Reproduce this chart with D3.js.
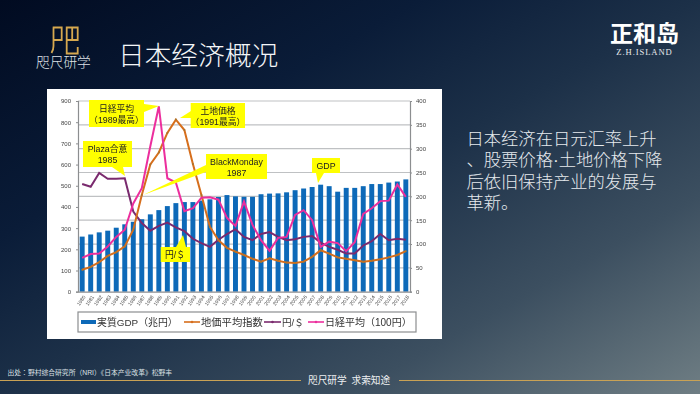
<!DOCTYPE html>
<html><head><meta charset="utf-8">
<script src="https://cdn.jsdelivr.net/npm/d3@7/dist/d3.min.js"></script>
<style>html,body{margin:0;padding:0;background:#0a1a33}svg{display:block}text{font-family:"Liberation Sans","Noto Sans CJK JP",sans-serif}</style>
</head><body><svg id="c" width="700" height="394"></svg>
<script>
const years = d3.range(1980, 2019).map(String);
const gdp = [260,270,280,288,302,318,330,342,365,385,404,418,423,423,430,436,447,456,450,448,448,460,463,464,469,479,487,494,505,498,472,490,490,498,508,508,515,520,530];
const land = [46,52,62,75,83,95,130,203,267,292,333,361,339,268,203,136,108,92,84,77,69,63,70,65,61,60,63,73,87,80,72,69,66,63,65,68,72,77,85];
const yen = [226,220,249,237,237,238,168,144,128,138,145,135,127,111,102,94,109,121,131,115,108,121,125,115,108,110,115,117,103,94,88,80,80,97,106,121,108,111,109];
const nikkei = [71,79,80,95,115,130,185,217,305,389,238,229,169,175,197,198,193,155,138,189,140,108,86,113,115,161,171,150,94,105,102,85,104,163,175,190,191,225,199];
const leftTicks = [0,100,200,300,400,500,600,700,800,900];
const rightTicks = [0,50,100,150,200,250,300,350,400];
const legendItems = ["実質GDP（兆円）","地価平均指数","円/＄","日経平均（100円）"];
const sideLines = ["日本经济在日元汇率上升","、股票价格·土地价格下降","后依旧保持产业的发展与","革新。"];

const svg = d3.select("#c");
const defs = svg.append("defs");
const bg = defs.append("linearGradient").attr("id","bg").attr("x1","0").attr("y1","0").attr("x2","1").attr("y2","1");
[[0,"#010b21"],[0.3,"#0a1c38"],[0.5,"#1c3048"],[0.75,"#3c4f60"],[1,"#6f7e84"]].forEach(d=>bg.append("stop").attr("offset",d[0]).attr("stop-color",d[1]));
defs.append("filter").attr("id","soft").append("feGaussianBlur").attr("stdDeviation",0.45);
svg.append("rect").attr("width",700).attr("height",394).attr("fill","url(#bg)");

// header
svg.append("text").attr("x",118).attr("y",65).attr("fill","#f4f6f8").attr("font-size",26.7).attr("font-weight",300).attr("font-family","Noto Sans CJK SC").text("日本经济概况");
const logo = svg.append("g").attr("fill","none").attr("stroke","#d6a84f").attr("stroke-width",1.8);
logo.append("path").attr("d","M52.7 27.5H61.7V40H53.5M53.5 27.5V46C53.5 49 52.8 51 51.5 53");
logo.append("path").attr("d","M66.7 27.5H77.7V40H66.7ZM72.2 27.5V40M66.7 40V53.5H77.7V47");
svg.append("text").attr("x",36).attr("y",67).attr("fill","#dfe2e6").attr("font-size",13.7).attr("font-weight",300).attr("font-family","Noto Sans CJK SC").text("咫尺研学");
svg.append("text").attr("x",644.5).attr("y",42).attr("text-anchor","middle").attr("fill","#fff").attr("font-size",23).attr("font-weight",700).attr("font-family","Noto Sans CJK TC").text("正和岛");
svg.append("text").attr("x",644.5).attr("y",55).attr("text-anchor","middle").attr("fill","#e8eaec").attr("font-size",8.6).attr("letter-spacing",0.9).style("font-family","Liberation Serif").text("Z.H.ISLAND");

// side text
svg.append("g").selectAll("text").data(sideLines).join("text").attr("x",466.5).attr("y",(d,i)=>145+i*21.3).attr("fill","#e6eaee").attr("font-size",17.3).attr("font-weight",300).attr("font-family","Noto Sans CJK SC").text(d=>d);

// footer
svg.append("text").attr("x",7.5).attr("y",375).attr("fill","#dde1e5").attr("font-size",6.8).attr("font-family","Noto Sans CJK SC").text("出处：野村综合研究所（NRI）《日本产业改革》松野丰");
svg.append("path").attr("d","M0 380.5H301M399 380.5H700").attr("stroke","#c9a255").attr("stroke-width",1.2);
svg.append("text").attr("x",308).attr("y",384).attr("fill","#eef0f2").attr("font-size",9.7).attr("word-spacing",2).attr("font-family","Noto Sans CJK SC").text("咫尺研学 求索知途");

// chart panel
const chart = svg.append("g").attr("filter","url(#soft)");
chart.append("rect").attr("x",47).attr("y",89).attr("width",395).attr("height",250).attr("fill","#fff");
const plot = {l:78, r:410, t:101, b:291.7};
const x = d3.scaleBand().domain(years).range([plot.l,plot.r]).paddingInner(0.42).paddingOuter(0.2);
const yL = d3.scaleLinear().domain([0,900]).range([plot.b,plot.t]);
const yR = d3.scaleLinear().domain([0,400]).range([plot.b,plot.t]);
const cx = y => x(y)+x.bandwidth()/2;

chart.append("g").selectAll("line").data(rightTicks.slice(1)).join("line")
  .attr("x1",plot.l).attr("x2",plot.r).attr("y1",d=>yR(d)).attr("y2",d=>yR(d)).attr("stroke","#bfc1c3").attr("stroke-width",1.2);
chart.append("g").selectAll("rect").data(years).join("rect")
  .attr("x",d=>x(d)).attr("width",x.bandwidth()).attr("y",(d,i)=>yL(gdp[i])).attr("height",(d,i)=>plot.b-yL(gdp[i])).attr("fill","#0a69b8");

const axL = chart.append("g").attr("transform",`translate(${plot.l},0)`).call(d3.axisLeft(yL).tickValues(leftTicks).tickSize(2).tickPadding(5));
const axR = chart.append("g").attr("transform",`translate(${plot.r},0)`).call(d3.axisRight(yR).tickValues(rightTicks).tickSize(2).tickPadding(4));
const axB = chart.append("g").attr("transform",`translate(0,${plot.b})`).call(d3.axisBottom(x).tickSize(0).tickPadding(4));
[axL,axR,axB].forEach(a=>{a.selectAll(".domain").attr("stroke","#8c8e90").attr("stroke-width",1.2);a.selectAll("line").attr("stroke","#8c8e90");a.selectAll("text").attr("fill","#444").attr("font-size",6).style("font-family","Liberation Sans");});
axB.selectAll("text").attr("font-size",5).attr("text-anchor","end").each(function(){const s=d3.select(this);const y0=+s.attr("y");s.attr("transform",`translate(2,${y0}) rotate(-55)`).attr("y",0).attr("dy","2");});

const line = d3.line().x((d,i)=>cx(years[i])).y(d=>yR(d));
[[yen,"#7a2a6e"],[land,"#d66e1c"],[nikkei,"#ec2f9d"]].forEach(([vals,col])=>{
  chart.append("path").datum(vals).attr("d",line).attr("fill","none").attr("stroke",col).attr("stroke-width",2);
});
chart.append("g").selectAll("circle").data(land).join("circle").attr("cx",(d,i)=>cx(years[i])).attr("cy",d=>yR(d)).attr("r",1).attr("fill","#a8742e");

// callouts
const callouts = [
 {box:[89,100,55,27], tail:"M144 104L159 106L144 112", lines:["日経平均","（1989最高）"], ty:[112,123], cx:116.5},
 {box:[190.7,103,54.3,25], tail:"M191 111L180 118L191 118", lines:["土地価格","（1991最高）"], ty:[114,125], cx:218},
 {box:[83,141,49,26], tail:"M112 167L125 176L123 167", lines:["Plaza合意","1985"], ty:[152,163], cx:107.5},
 {box:[206,154,61,25], tail:"M206 165L143 195L206 172", lines:["BlackMonday","1987"], ty:[165,176], cx:236.5},
 {box:[312,158,28,15], tail:"M316 173L318 183L324 173", lines:["GDP"], ty:[169], cx:326},
 {box:[160.7,247,29.3,15], tail:"M176 247L183 235L186 247", lines:["円/＄"], ty:[258], cx:175}
];
const cg = chart.append("g");
callouts.forEach(c=>{
  cg.append("path").attr("d",c.tail).attr("fill","#ffff00");
  cg.append("rect").attr("x",c.box[0]).attr("y",c.box[1]).attr("width",c.box[2]).attr("height",c.box[3]).attr("fill","#ffff00");
  c.lines.forEach((t,i)=>cg.append("text").attr("x",c.cx).attr("y",c.ty[i]).attr("text-anchor","middle").attr("fill","#222").attr("font-size",8.8).text(t));
});

// legend
const lg = chart.append("g");
lg.append("rect").attr("x",78).attr("y",312).attr("width",338).attr("height",20).attr("fill","#fff").attr("stroke","#8c8e90").attr("stroke-width",1.2);
lg.append("rect").attr("x",81).attr("y",320).attr("width",15).attr("height",4).attr("fill","#0a69b8");
const items = [
 {x:97,t:legendItems[0],fs:9.9},
 {x:201,t:legendItems[1],c:"#d66e1c",lx:184,fs:10.3},
 {x:282,t:legendItems[2],c:"#7a2a6e",lx:264,fs:9.5},
 {x:325,t:legendItems[3],c:"#ec2f9d",lx:308,fs:10}
];
items.forEach(it=>{
  if(it.c){
    lg.append("line").attr("x1",it.lx).attr("x2",it.x-1).attr("y1",322).attr("y2",322).attr("stroke",it.c).attr("stroke-width",1.6);
    lg.append("circle").attr("cx",(it.lx+it.x-1)/2).attr("cy",322).attr("r",1.3).attr("fill",it.c);
  }
  lg.append("text").attr("x",it.x).attr("y",326).attr("fill","#333").attr("font-size",it.fs).text(it.t);
});
</script></body></html>
